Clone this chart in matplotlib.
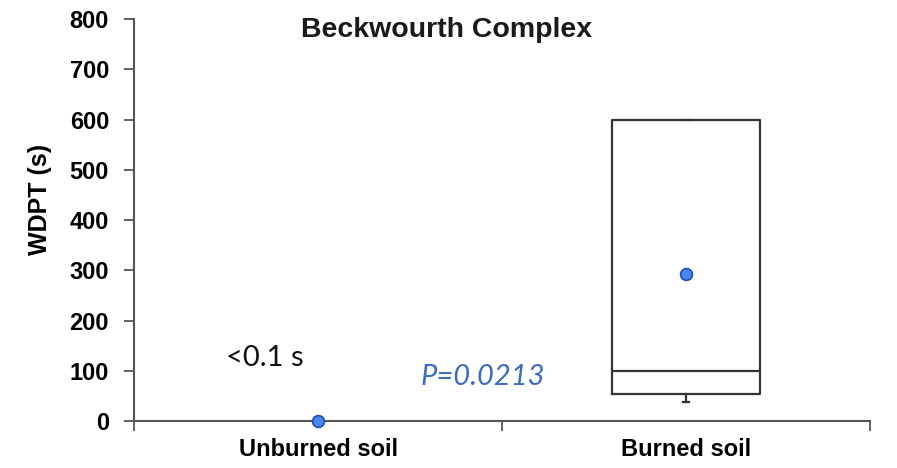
import numpy as np
import matplotlib
matplotlib.use("Agg")
import matplotlib.pyplot as plt

# data
groups = ["Unburned soil", "Burned soil"]
positions = [0.5, 1.5]
unburned_mean = 0.0
burned_q1 = 54
burned_median = 100
burned_q3 = 600
burned_low = 38
burned_high = 600
burned_mean = 292
y_ticks = [0, 100, 200, 300, 400, 500, 600, 700, 800]

fig = plt.figure(figsize=(8.97, 4.68), dpi=100)
ax = fig.add_axes([0.1494, 0.1004, 0.8206, 0.859])

stats = [dict(med=burned_median, q1=burned_q1, q3=burned_q3,
              whislo=burned_low, whishi=burned_high, fliers=[], label=groups[1])]
ax.bxp(stats, positions=[positions[1]], widths=0.40, showfliers=False,
       capwidths=0.018, patch_artist=False,
       boxprops=dict(color="#333333", linewidth=1.6),
       medianprops=dict(color="#333333", linewidth=1.6),
       whiskerprops=dict(color="#333333", linewidth=1.6),
       capprops=dict(color="#333333", linewidth=1.6))

# mean markers
ax.plot(positions, [unburned_mean, burned_mean], linestyle="none", marker="o",
        markersize=8.5, markerfacecolor="#4a86e8", markeredgecolor="#1f4fb8",
        markeredgewidth=1.2, clip_on=False, zorder=5)

ax.set_xlim(0, 2)
ax.set_ylim(0, 800)
ax.set_yticks(y_ticks)
ax.set_xticks([0, 1, 2])
ax.set_xticklabels([])
ax.set_xticks(positions, minor=True)
ax.set_xticklabels(groups, minor=True)

lab_font = dict(family="Liberation Sans", weight="bold", size=17)
for t in ax.get_yticklabels():
    t.set_fontproperties(matplotlib.font_manager.FontProperties(**lab_font))
for t in ax.get_xticklabels(minor=True):
    t.set_fontproperties(matplotlib.font_manager.FontProperties(**lab_font))

ax.tick_params(axis="y", direction="out", length=7, width=1.3, color="#555555", pad=11)
ax.tick_params(axis="x", which="major", direction="out", length=7, width=1.3, color="#555555")
ax.tick_params(axis="x", which="minor", length=0, pad=12)

for s in ["top", "right"]:
    ax.spines[s].set_visible(False)
for s in ["left", "bottom"]:
    ax.spines[s].set_color("#555555")
    ax.spines[s].set_linewidth(1.5)

ax.set_ylabel("WDPT (s)", fontfamily="Liberation Sans", fontweight="bold",
              fontsize=18)
ax.yaxis.set_label_coords(-0.111, 0.55)

ax.text(0.848, 778, "Beckwourth Complex", fontfamily="Liberation Sans",
        fontweight="bold", fontsize=20.5, ha="center", va="center", color="#1a1a1a")
ax.text(0.356, 125, "<0.1 s", fontfamily="Lato", fontsize=21, ha="center",
        va="center", color="#111111")
ax.text(0.948, 88, "P=0.0213", fontfamily="Lato", fontstyle="italic", fontsize=21,
        ha="center", va="center", color="#3d6cc4")

fig.savefig("out.png", dpi=100, facecolor="white")
